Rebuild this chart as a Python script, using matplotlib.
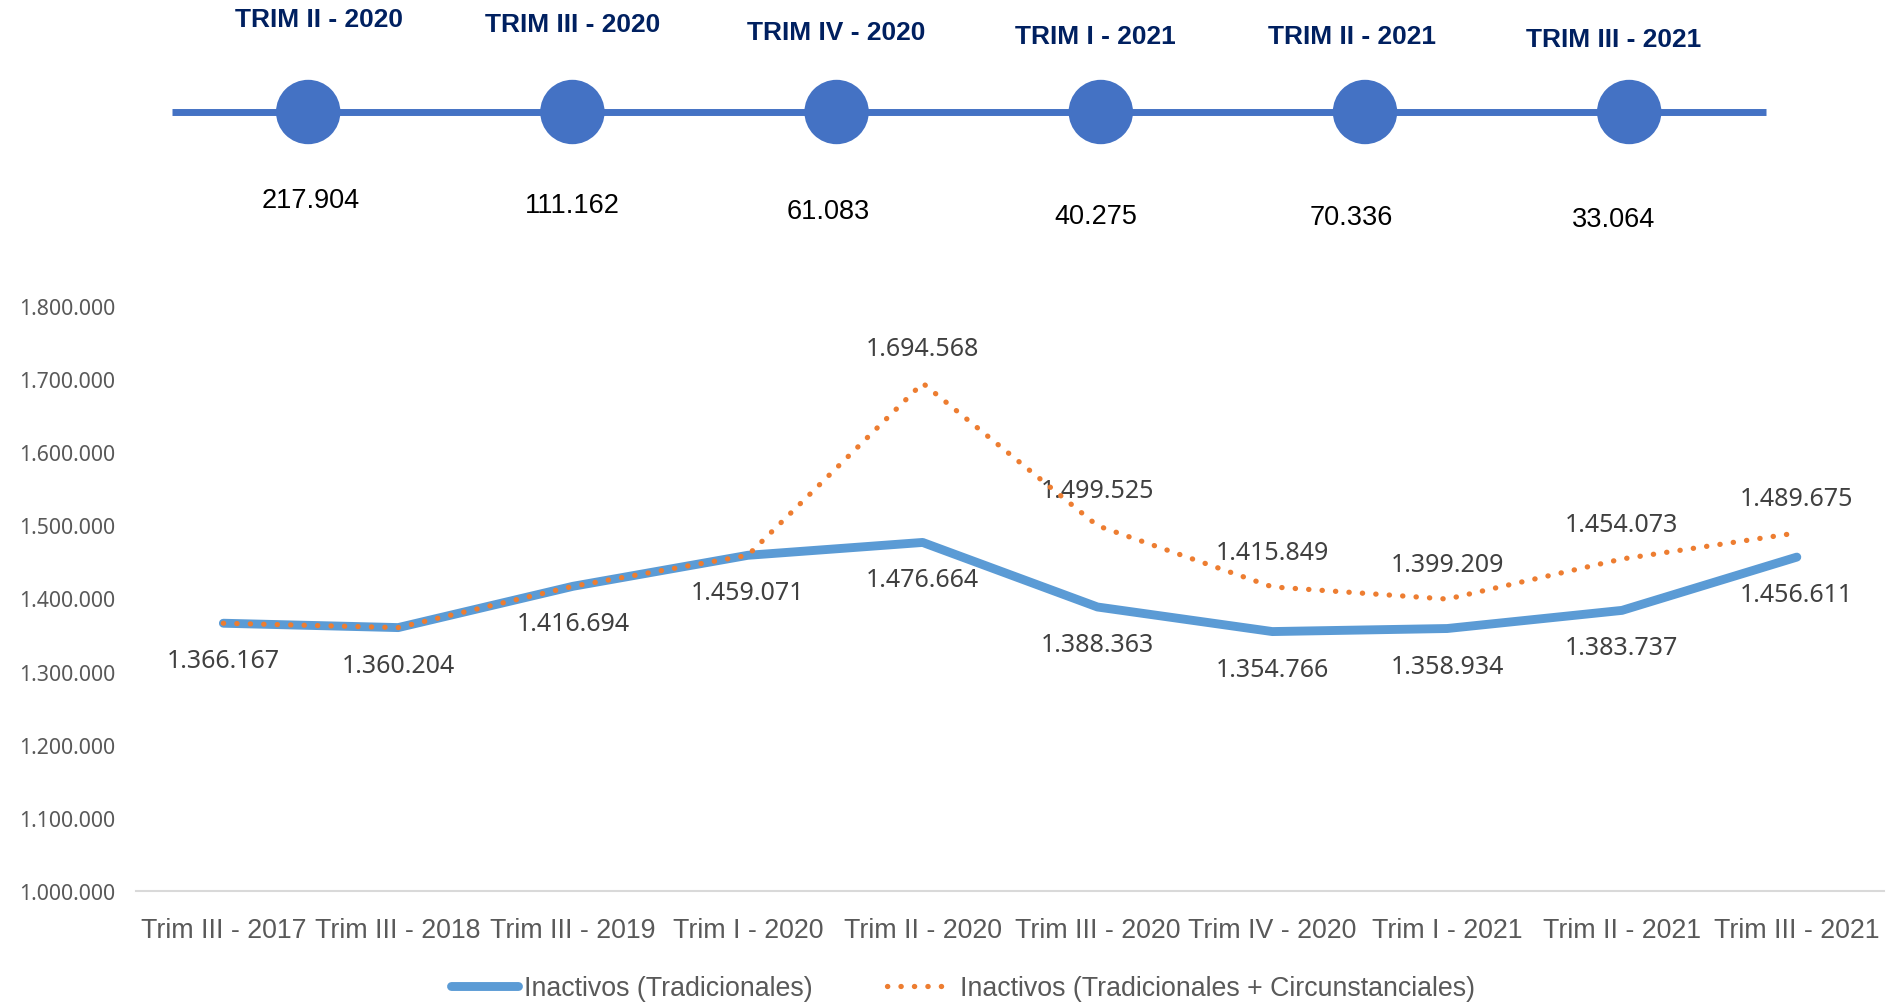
import matplotlib
matplotlib.use("Agg")
import matplotlib.pyplot as plt
from matplotlib.lines import Line2D
from matplotlib.ticker import FuncFormatter

# ---------------------------------------------------------------------------
# Data
# ---------------------------------------------------------------------------
quarters = [
    "Trim III - 2017", "Trim III - 2018", "Trim III - 2019", "Trim I - 2020",
    "Trim II - 2020", "Trim III - 2020", "Trim IV - 2020", "Trim I - 2021",
    "Trim II - 2021", "Trim III - 2021",
]
inactivos_trad = [
    1366167, 1360204, 1416694, 1459071, 1476664,
    1388363, 1354766, 1358934, 1383737, 1456611,
]
inactivos_total = [
    1366167, 1360204, 1416694, 1459071, 1694568,
    1499525, 1415849, 1399209, 1454073, 1489675,
]
# first quarter whose "circunstanciales" value gets its own label
first_circ = 4

timeline_labels = [
    "TRIM II - 2020", "TRIM III - 2020", "TRIM IV - 2020",
    "TRIM I - 2021", "TRIM II - 2021", "TRIM III - 2021",
]
timeline_values = [217904, 111162, 61083, 40275, 70336, 33064]

# ---------------------------------------------------------------------------
# Style
# ---------------------------------------------------------------------------
BLUE = "#5B9BD5"
ORANGE = "#ED7D31"
DOT_BLUE = "#4472C4"
NAVY = "#002060"
NARROW = ["Liberation Sans", "DejaVu Sans"]   # stands in for Calibri
NUMS = ["Noto Sans", "DejaVu Sans"]           # stands in for Segoe UI


def _miles(v, _pos=None):
    return f"{int(round(v)):,}".replace(",", ".")


fig = plt.figure(figsize=(18.88, 10.03), dpi=100)

# ---------------------------------------------------------------------------
# Main line chart
# ---------------------------------------------------------------------------
ax = fig.add_axes([0.072, 0.1107, 0.926, 0.5832])
x = list(range(len(quarters)))

ax.plot(x, inactivos_trad, color=BLUE, linewidth=6.4,
        solid_capstyle="round", solid_joinstyle="round", zorder=3)
ax.plot(x, inactivos_total, color=ORANGE, linewidth=3.8,
        linestyle=(0, (0.05, 2.5)), dash_capstyle="round", zorder=4)

for i, v in enumerate(inactivos_trad):
    ax.annotate(_miles(v), (i, v), xytext=(0, -27), textcoords="offset points",
                ha="center", va="center", fontsize=18, color="#404040",
                family=NUMS)
for i in range(first_circ, len(quarters)):
    v = inactivos_total[i]
    ax.annotate(_miles(v), (i, v), xytext=(0, 25), textcoords="offset points",
                ha="center", va="center", fontsize=18, color="#404040",
                family=NUMS)

ax.set_xlim(-0.5, len(quarters) - 0.5)
ax.set_ylim(1000000, 1800000)
ax.set_yticks(range(1000000, 1800001, 100000))
ax.yaxis.set_major_formatter(FuncFormatter(_miles))
ax.set_xticks(x)
ax.set_xticklabels(quarters, fontsize=19.3, color="#595959", family=NARROW)
ax.tick_params(axis="x", length=0, pad=19)
ax.tick_params(axis="y", length=0, pad=15, labelsize=15.3, labelcolor="#595959")
for lbl in ax.get_yticklabels():
    lbl.set_family(NUMS)
for side in ("top", "right", "left"):
    ax.spines[side].set_visible(False)
ax.spines["bottom"].set_color("#D9D9D9")
ax.spines["bottom"].set_linewidth(1.5)

handles = [
    Line2D([], [], color=BLUE, linewidth=6.4, solid_capstyle="round"),
    Line2D([], [], color=ORANGE, linewidth=3.8, linestyle=(0, (0.05, 2.5)),
           dash_capstyle="round"),
]
fig.legend(handles, ["Inactivos (Tradicionales)",
                     "Inactivos (Tradicionales + Circunstanciales)"],
           loc="center", bbox_to_anchor=(0.51, 0.014), ncol=2, frameon=False,
           handlelength=2.5, handletextpad=0.2, columnspacing=2.8,
           prop={"family": NARROW, "size": 19.3}, labelcolor="#595959")

# ---------------------------------------------------------------------------
# Timeline overlay (pixel rows on y, timeline index on x)
# ---------------------------------------------------------------------------
tl = fig.add_axes([0, 0, 1, 1], zorder=5)
tl.set_xlim(-308.2 / 264.2, (1888 - 308.2) / 264.2)
tl.set_ylim(1003, 0)
tl.axis("off")

n = len(timeline_labels)
tl.plot([-0.516, n - 0.482], [113, 113], color=DOT_BLUE, linewidth=5,
        solid_capstyle="butt")
tl.scatter(range(n), [113] * n, s=2150, color=DOT_BLUE, zorder=3,
           edgecolors="none")

title_dx = [0.04, 0.0, 0.0, -0.02, -0.05, -0.06]
title_y = [20, 25, 33, 37, 37, 40]
value_dx = [0.01, 0.0, -0.03, -0.02, -0.05, -0.06]
value_y = [201, 206, 212, 217, 218, 220]
for i, (lab, val) in enumerate(zip(timeline_labels, timeline_values)):
    tl.text(i + title_dx[i], title_y[i], lab, ha="center", va="center",
            fontsize=19, fontweight="bold", color=NAVY, family=NARROW)
    tl.text(i + value_dx[i], value_y[i], _miles(val), ha="center",
            va="center", fontsize=19.5, color="black", family=NARROW)

fig.savefig("out.png", dpi=100)
